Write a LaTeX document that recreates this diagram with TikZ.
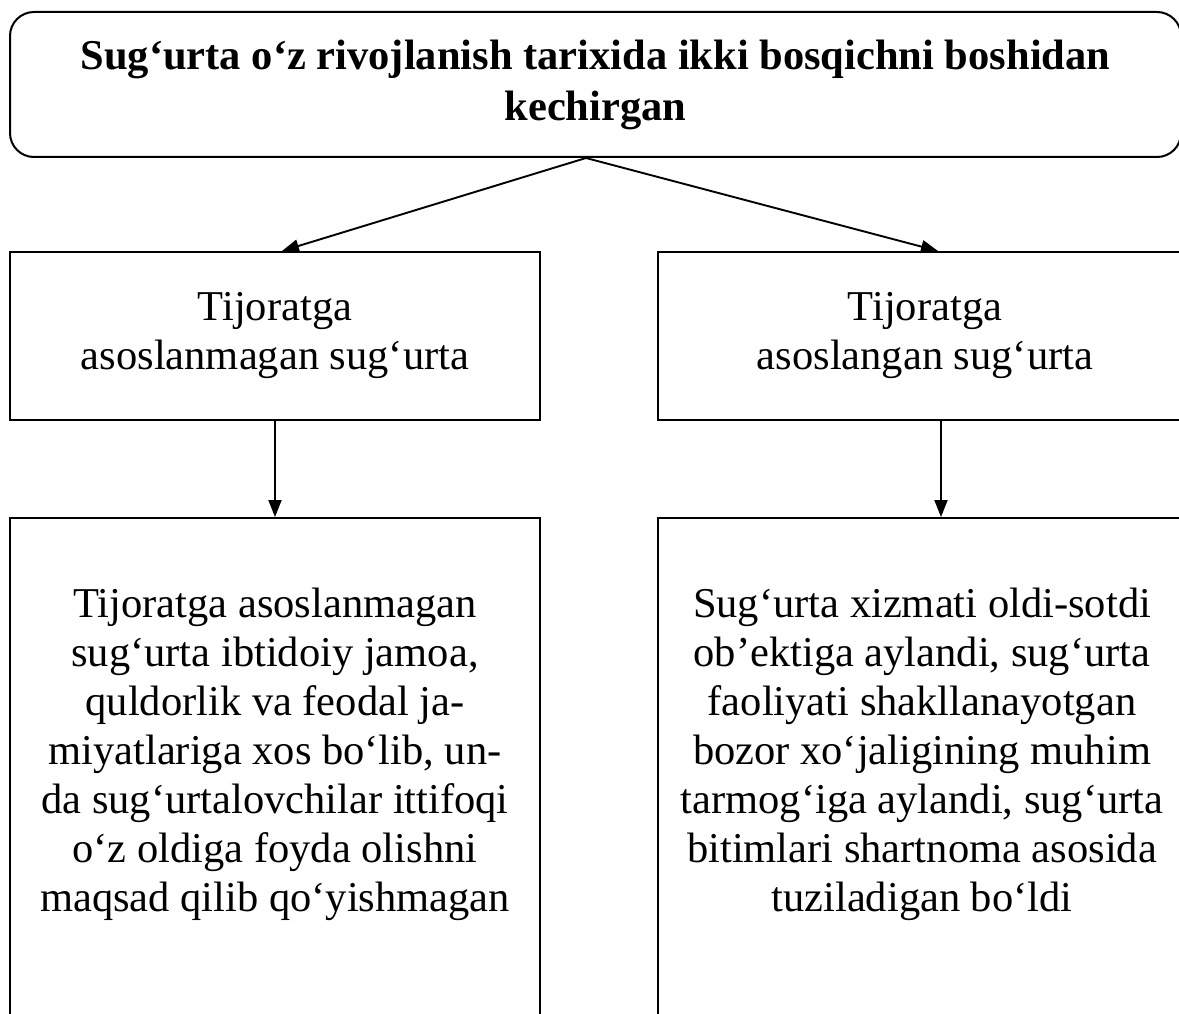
\documentclass[tikz,border=0pt]{standalone}
\usepackage{fontspec}
\setmainfont{Liberation Serif}
\usetikzlibrary{positioning,arrows.meta}
\begin{document}
\begin{tikzpicture}[x=1pt,y=-1pt,
    box/.style={rectangle,draw,line width=2pt,inner sep=0pt,align=center,
        font=\fontsize{42.5}{49}\selectfont},
    txt/.style={inner sep=0pt,align=center,font=\fontsize{42.5}{49}\selectfont},
    arr/.style={-{Triangle[length=17pt,width=13pt]},line width=1.9pt}]
  \useasboundingbox (0,0) rectangle (1179,1014);
  \clip (0,0) rectangle (1179,1014);
  % top
  \node[box,rounded corners=24pt,minimum width=1171pt,minimum height=145pt,
        font=\bfseries\fontsize{42.5}{51}\selectfont] (T) at (595.5,84.5)
        {Sug‘urta o‘z rivojlanish tarixida ikki bosqichni boshidan\\kechirgan};
  % two stages
  \node[box,minimum width=530pt,minimum height=168pt] (L1) at (275,336)
        {Tijoratga\\asoslanmagan sug‘urta};
  \node[box,minimum width=534pt,minimum height=168pt] (R1) at (925,336)
        {Tijoratga\\asoslangan sug‘urta};
  % descriptions
  \node[box,minimum width=530pt,minimum height=560pt,anchor=north] (L2) at (275,517) {};
  \node[box,minimum width=534pt,minimum height=560pt,anchor=north] (R2) at (925,517) {};
  \node[txt,below=71pt of L2.north] (L2t)
        {Tijoratga asoslanmagan\\sug‘urta ibtidoiy jamoa,\\quldorlik va feodal ja-\\miyatlariga xos bo‘lib, un-\\da sug‘urtalovchilar ittifoqi\\o‘z oldiga foyda olishni\\maqsad qilib qo‘yishmagan};
  \node[txt,below=71pt of R2.north,xshift=-3pt] (R2t)
        {Sug‘urta xizmati oldi-sotdi\\ob’ektiga aylandi, sug‘urta\\faoliyati shakllanayotgan\\bozor xo‘jaligining muhim\\tarmog‘iga aylandi, sug‘urta\\bitimlari shartnoma asosida\\tuziladigan bo‘ldi};
  % arrows
  \draw[arr] ([xshift=-9.5pt]T.south) -- ([xshift=7pt]L1.north);
  \draw[arr] ([xshift=-9.5pt]T.south) -- ([xshift=13pt]R1.north);
  \draw[arr] (L1.south) -- (L2.north);
  \draw[arr] ([xshift=16pt]R1.south) -- ([xshift=16pt]R2.north);
\end{tikzpicture}
\end{document}
